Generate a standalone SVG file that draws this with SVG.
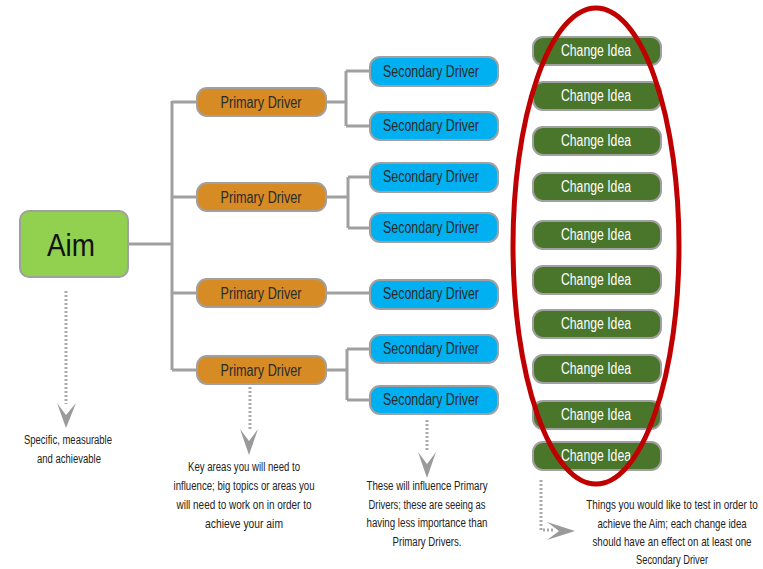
<svg xmlns="http://www.w3.org/2000/svg" width="763" height="569" viewBox="0 0 763 569">
<style>
.lbl{font-family:"Liberation Sans",Arial,sans-serif;text-anchor:middle;dominant-baseline:central}
.box{stroke:#a0a0a0;stroke-width:2}
.aim{fill:#92d050}
.pd{fill:#d68b25}
.sd{fill:#00b0f0}
.ci{fill:#4a762c}
.conn{fill:none;stroke:#a0a0a0;stroke-width:3}
.dot{fill:none;stroke:#aaaaaa;stroke-width:3;stroke-dasharray:2,2}
.head{fill:#9a9a9a}
.note{font-family:"Liberation Sans",Arial,sans-serif;font-size:12.5px;fill:#222;text-anchor:middle}
.t15{font-size:16px;fill:#2a2a2a}
.tw{font-size:16px;fill:#ffffff}
</style>
<rect width="763" height="569" fill="#ffffff"/>
<g id="connectors">
<path class="conn" d="M128 244 H172 M172 101 V370 M172 102 H196 M172 197 H196 M172 293 H196 M172 370 H196"/>
<path class="conn" d="M326 102 H346 M346 71 V126 M346 71 H370 M346 126 H370"/>
<path class="conn" d="M326 197 H348 M348 177 V228 M348 177 H370 M348 228 H370"/>
<path class="conn" d="M326 293 H370"/>
<path class="conn" d="M326 370 H347 M347 349 V400 M347 349 H370 M347 400 H370"/>
<path class="dot" d="M66 291 V404"/>
<polygon class="head" points="57,403 66,415 76,403 66,428"/>
<path class="dot" d="M250 387 V430"/>
<polygon class="head" points="240,429 249,441 258,429 249,455"/>
<path class="dot" d="M427 420 V452"/>
<polygon class="head" points="418,452 427,464 436,452 427,478"/>
<path class="dot" d="M541 480 V530 H553"/>
<polygon class="head" points="547,522 559,531 547,540 575,531"/>
</g>
<g id="aim"><rect class="box aim" x="20" y="211" width="108" height="66" rx="9"/><text class="lbl" x="71" y="245" font-size="32" fill="#111" textLength="48" lengthAdjust="spacingAndGlyphs">Aim</text></g>
<g id="pd1"><rect class="box pd" x="197" y="88" width="129" height="28" rx="10"/><text class="lbl t15" x="261" y="102" textLength="81" lengthAdjust="spacingAndGlyphs">Primary Driver</text></g>
<g id="pd2"><rect class="box pd" x="197" y="183" width="129" height="28" rx="10"/><text class="lbl t15" x="261" y="197" textLength="81" lengthAdjust="spacingAndGlyphs">Primary Driver</text></g>
<g id="pd3"><rect class="box pd" x="197" y="279" width="129" height="28" rx="10"/><text class="lbl t15" x="261" y="293" textLength="81" lengthAdjust="spacingAndGlyphs">Primary Driver</text></g>
<g id="pd4"><rect class="box pd" x="197" y="356" width="129" height="28" rx="10"/><text class="lbl t15" x="261" y="370" textLength="81" lengthAdjust="spacingAndGlyphs">Primary Driver</text></g>
<g id="sd1"><rect class="box sd" x="370" y="57" width="128" height="29" rx="10"/><text class="lbl t15" x="431" y="71" textLength="96" lengthAdjust="spacingAndGlyphs">Secondary Driver</text></g>
<g id="sd2"><rect class="box sd" x="370" y="112" width="128" height="28" rx="10"/><text class="lbl t15" x="431" y="125" textLength="96" lengthAdjust="spacingAndGlyphs">Secondary Driver</text></g>
<g id="sd3"><rect class="box sd" x="370" y="163" width="128" height="29" rx="10"/><text class="lbl t15" x="431" y="176" textLength="96" lengthAdjust="spacingAndGlyphs">Secondary Driver</text></g>
<g id="sd4"><rect class="box sd" x="370" y="213" width="128" height="29" rx="10"/><text class="lbl t15" x="431" y="227" textLength="96" lengthAdjust="spacingAndGlyphs">Secondary Driver</text></g>
<g id="sd5"><rect class="box sd" x="370" y="280" width="128" height="29" rx="10"/><text class="lbl t15" x="431" y="293" textLength="96" lengthAdjust="spacingAndGlyphs">Secondary Driver</text></g>
<g id="sd6"><rect class="box sd" x="370" y="335" width="128" height="28" rx="10"/><text class="lbl t15" x="431" y="348" textLength="96" lengthAdjust="spacingAndGlyphs">Secondary Driver</text></g>
<g id="sd7"><rect class="box sd" x="370" y="386" width="128" height="28" rx="10"/><text class="lbl t15" x="431" y="399" textLength="96" lengthAdjust="spacingAndGlyphs">Secondary Driver</text></g>
<g id="ci1"><rect class="box ci" x="533" y="37" width="128" height="28" rx="10"/><text class="lbl tw" x="596" y="50" textLength="70" lengthAdjust="spacingAndGlyphs">Change Idea</text></g>
<g id="ci2"><rect class="box ci" x="533" y="82" width="128" height="28" rx="10"/><text class="lbl tw" x="596" y="95" textLength="70" lengthAdjust="spacingAndGlyphs">Change Idea</text></g>
<g id="ci3"><rect class="box ci" x="533" y="127" width="128" height="28" rx="10"/><text class="lbl tw" x="596" y="140" textLength="70" lengthAdjust="spacingAndGlyphs">Change Idea</text></g>
<g id="ci4"><rect class="box ci" x="533" y="173" width="128" height="28" rx="10"/><text class="lbl tw" x="596" y="186" textLength="70" lengthAdjust="spacingAndGlyphs">Change Idea</text></g>
<g id="ci5"><rect class="box ci" x="533" y="221" width="128" height="28" rx="10"/><text class="lbl tw" x="596" y="234" textLength="70" lengthAdjust="spacingAndGlyphs">Change Idea</text></g>
<g id="ci6"><rect class="box ci" x="533" y="266" width="128" height="28" rx="10"/><text class="lbl tw" x="596" y="279" textLength="70" lengthAdjust="spacingAndGlyphs">Change Idea</text></g>
<g id="ci7"><rect class="box ci" x="533" y="310" width="128" height="28" rx="10"/><text class="lbl tw" x="596" y="323" textLength="70" lengthAdjust="spacingAndGlyphs">Change Idea</text></g>
<g id="ci8"><rect class="box ci" x="533" y="355" width="128" height="28" rx="10"/><text class="lbl tw" x="596" y="368" textLength="70" lengthAdjust="spacingAndGlyphs">Change Idea</text></g>
<g id="ci9"><rect class="box ci" x="533" y="401" width="128" height="28" rx="10"/><text class="lbl tw" x="596" y="414" textLength="70" lengthAdjust="spacingAndGlyphs">Change Idea</text></g>
<g id="ci10"><rect class="box ci" x="533" y="442" width="128" height="28" rx="10"/><text class="lbl tw" x="596" y="455" textLength="70" lengthAdjust="spacingAndGlyphs">Change Idea</text></g>
<g id="highlight"><ellipse cx="596" cy="246" rx="83" ry="238" fill="none" stroke="#c00000" stroke-width="5"/></g>
<g id="notes">
<text class="note" x="68" y="444" textLength="88" lengthAdjust="spacingAndGlyphs">Specific, measurable</text>
<text class="note" x="69" y="463" textLength="64" lengthAdjust="spacingAndGlyphs">and achievable</text>
<text class="note" x="244" y="471" textLength="112" lengthAdjust="spacingAndGlyphs">Key areas you will need to</text>
<text class="note" x="244" y="490" textLength="141" lengthAdjust="spacingAndGlyphs">influence; big topics or areas you</text>
<text class="note" x="244" y="509" textLength="135" lengthAdjust="spacingAndGlyphs">will need to work on in order to</text>
<text class="note" x="244" y="528" textLength="78" lengthAdjust="spacingAndGlyphs">achieve your aim</text>
<text class="note" x="427" y="490" textLength="121" lengthAdjust="spacingAndGlyphs">These will influence Primary</text>
<text class="note" x="427" y="509" textLength="117" lengthAdjust="spacingAndGlyphs">Drivers; these are seeing as</text>
<text class="note" x="427" y="527" textLength="121" lengthAdjust="spacingAndGlyphs">having less importance than</text>
<text class="note" x="427" y="546" textLength="69" lengthAdjust="spacingAndGlyphs">Primary Drivers.</text>
<text class="note" transform="translate(672,509) scale(0.75,1)" x="0" y="0" textLength="229" lengthAdjust="spacingAndGlyphs">Things you would like to test in order to</text>
<text class="note" transform="translate(672,528) scale(0.75,1)" x="0" y="0" textLength="199" lengthAdjust="spacingAndGlyphs">achieve the Aim; each change idea</text>
<text class="note" transform="translate(672,546) scale(0.75,1)" x="0" y="0" textLength="212" lengthAdjust="spacingAndGlyphs">should have an effect on at least one</text>
<text class="note" transform="translate(672,564) scale(0.75,1)" x="0" y="0" textLength="96" lengthAdjust="spacingAndGlyphs">Secondary Driver</text>
</g>
</svg>
